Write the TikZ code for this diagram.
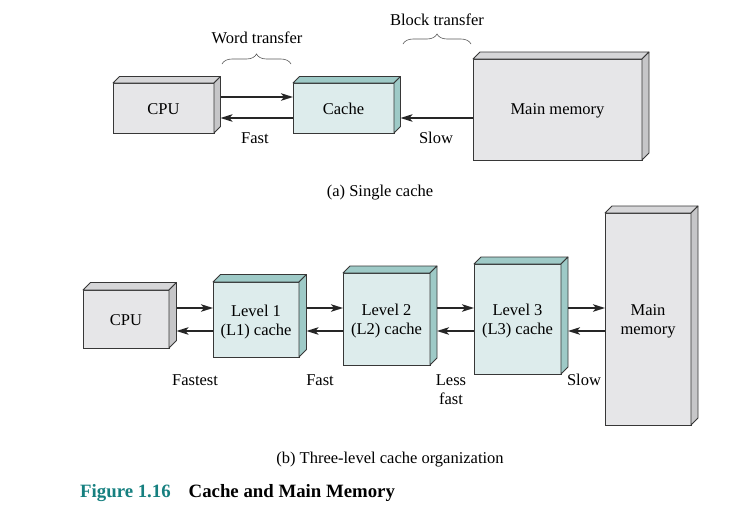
\documentclass[tikz,border=0pt]{standalone}
\usepackage{fontspec}
\setmainfont{Liberation Serif}
\usetikzlibrary{decorations.pathreplacing,arrows.meta}
\definecolor{grayfront}{RGB}{230,230,232}
\definecolor{graytop}{RGB}{214,214,216}
\definecolor{grayside}{RGB}{198,198,200}
\definecolor{tealfront}{RGB}{221,236,236}
\definecolor{tealside}{RGB}{158,202,199}
\definecolor{figteal}{RGB}{22,128,128}
\definecolor{edgecol}{RGB}{55,55,55}
\newcommand\boxfaces[4]{%
  \filldraw[draw=edgecol,line width=0.8pt,fill=#3,line join=round]
    (#1.north west) -- ++(#2,-#2) -- ([shift={(#2,-#2)}]#1.north east) -- (#1.north east) -- cycle;
  \filldraw[draw=edgecol,line width=0.8pt,fill=#4,line join=round]
    (#1.north east) -- ([shift={(#2,-#2)}]#1.north east) -- ([shift={(#2,-#2)}]#1.south east) -- (#1.south east) -- cycle;}
\begin{document}
\begin{tikzpicture}[x=1pt,y=-1pt,
  font=\fontsize{16.5}{19}\selectfont,
  face/.style={draw=edgecol, line width=0.8pt, inner sep=0pt, outer sep=0pt, align=center},
  oneline/.style={text height=13pt},
  twoline/.style={text height=35.5pt},
  graybox/.style={face, fill=grayfront},
  tealbox/.style={face, fill=tealfront},
  arr/.style={line width=1.6pt, draw=black!85, -{Stealth[length=12pt,width=7.5pt,inset=3pt]}},
  brc/.style={decorate, decoration={brace, amplitude=10pt}, draw=black!65, line width=0.6pt},
  lbl/.style={inner sep=0pt, align=center}]
\useasboundingbox (0,0) rectangle (742,512);
\fill[white] (0,0) rectangle (742,512);

% ---------- (a) single cache ----------
\node[graybox, oneline, minimum width=101pt, minimum height=50pt] (cpua) at (163.5,108) {CPU};
\boxfaces{cpua}{6.5}{graytop}{grayside}
\node[tealbox, oneline, minimum width=101pt, minimum height=50pt] (cachea) at (343.5,108) {Cache};
\boxfaces{cachea}{6.5}{tealside}{tealside}
\node[graybox, oneline, minimum width=169pt, minimum height=101pt] (mema) at (557.5,109.5) {Main memory};
\boxfaces{mema}{7}{graytop}{grayside}

\coordinate (aup) at (0,97);
\coordinate (alo) at (0,118);
\draw[arr] ([xshift=6.5pt]cpua.east |- aup) -- (cachea.west |- aup);
\draw[arr] (cachea.west |- alo) -- ([xshift=6.5pt]cpua.east |- alo);
\draw[arr] (mema.west |- alo) -- ([xshift=6.5pt]cachea.east |- alo);

\node[lbl] (fasta) at (255,138) {Fast};
\node[lbl] (slowa) at (436,138) {Slow};
\draw[brc] (222,64) -- (291,64);
\node[lbl] (word) at (257,38) {Word transfer};
\draw[brc] (403,44) -- (471,44);
\node[lbl] (block) at (437,20) {Block transfer};
\node[lbl] (capa) at (380,193) {(a) Single cache};

% ---------- (b) three-level ----------
\node[graybox, oneline, minimum width=86pt, minimum height=58pt] (cpub) at (126,319) {CPU};
\boxfaces{cpub}{7.5}{graytop}{grayside}
\node[tealbox, twoline, minimum width=86pt, minimum height=75pt] (l1) at (256,319.5) {Level 1\\(L1) cache};
\boxfaces{l1}{7.5}{tealside}{tealside}
\node[tealbox, twoline, minimum width=87pt, minimum height=92pt] (l2) at (386.5,319) {Level 2\\(L2) cache};
\boxfaces{l2}{7}{tealside}{tealside}
\node[tealbox, twoline, minimum width=87pt, minimum height=110pt] (l3) at (517.5,319) {Level 3\\(L3) cache};
\boxfaces{l3}{7}{tealside}{tealside}
\node[graybox, twoline, minimum width=86pt, minimum height=212pt] (memb) at (648,319) {Main\\memory};
\boxfaces{memb}{7}{graytop}{grayside}

\coordinate (bup) at (0,308);
\coordinate (blo) at (0,331);
\draw[arr] ([xshift=7.5pt]cpub.east |- bup) -- (l1.west |- bup);
\draw[arr] (l1.west |- blo) -- ([xshift=7.5pt]cpub.east |- blo);
\draw[arr] ([xshift=7.5pt]l1.east |- bup) -- (l2.west |- bup);
\draw[arr] (l2.west |- blo) -- ([xshift=7.5pt]l1.east |- blo);
\draw[arr] ([xshift=7pt]l2.east |- bup) -- (l3.west |- bup);
\draw[arr] (l3.west |- blo) -- ([xshift=7pt]l2.east |- blo);
\draw[arr] ([xshift=7pt]l3.east |- bup) -- (memb.west |- bup);
\draw[arr] (memb.west |- blo) -- ([xshift=7pt]l3.east |- blo);

\node[lbl] (fastest) at (195,380) {Fastest};
\node[lbl] (fastb) at (320,380) {Fast};
\node[lbl] (lessfast) at (451,389.5) {Less\\fast};
\node[lbl] (slowb) at (584,380) {Slow};
\node[lbl] (capb) at (390,459.5) {(b) Three-level cache organization};

\node[lbl, anchor=west, font=\fontsize{18.8}{21}\selectfont\bfseries] (fig) at (80,493.5)
  {\textcolor{figteal}{Figure 1.16}\hspace{18pt}Cache and Main Memory};
\end{tikzpicture}
\end{document}
